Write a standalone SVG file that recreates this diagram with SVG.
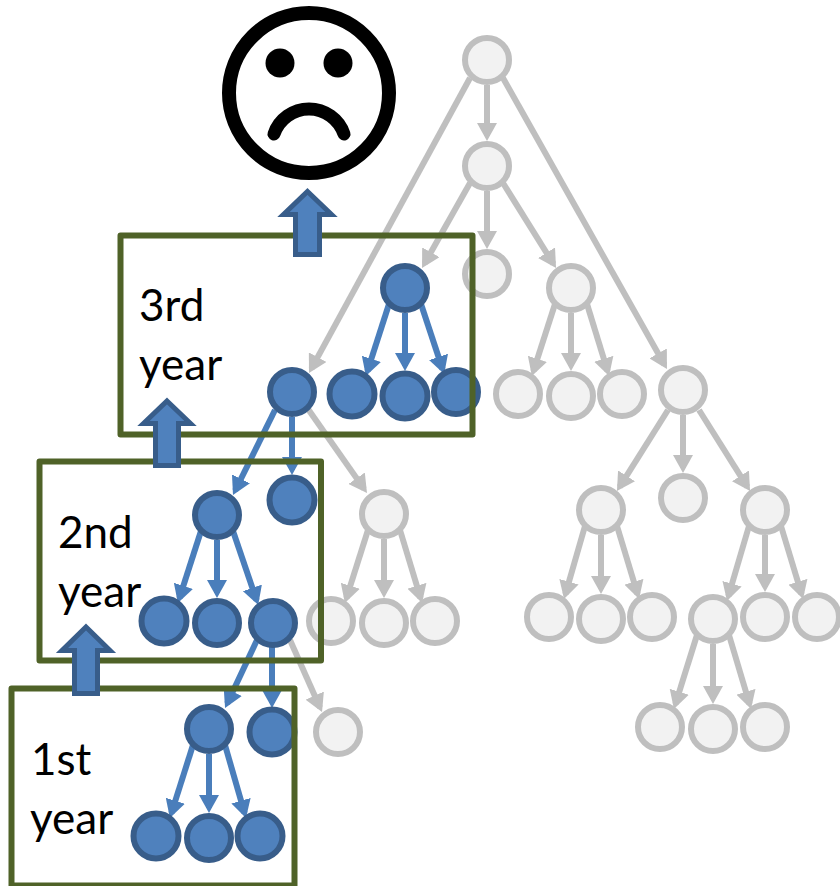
<svg xmlns="http://www.w3.org/2000/svg" width="840" height="886" viewBox="0 0 840 886">
<style>
.g{fill:#F2F2F2;stroke:#BFBFBF;stroke-width:6}
.b{fill:#4F81BD;stroke:#385D8A;stroke-width:6}
.lg{stroke:#BFBFBF;stroke-width:6;fill:none;marker-end:url(#hg)}
.lb{stroke:#4A7EBB;stroke-width:6;fill:none;marker-end:url(#hb)}
.f{fill:none;stroke:#4F6228;stroke-width:6;stroke-linejoin:round}
.u{fill:#4F81BD;stroke:#385D8A;stroke-width:5}
text{font-family:"Lato","Open Sans",sans-serif;font-size:44px;fill:#000}
</style>
<defs>
<marker id="hg" markerUnits="userSpaceOnUse" markerWidth="18" markerHeight="20" viewBox="0 0 18 20" refX="13" refY="10" orient="auto"><path d="M0 0L18 10L0 20Z" fill="#BFBFBF"/></marker>
<marker id="hb" markerUnits="userSpaceOnUse" markerWidth="18" markerHeight="20" viewBox="0 0 18 20" refX="13" refY="10" orient="auto"><path d="M0 0L18 10L0 20Z" fill="#4A7EBB"/></marker>
</defs>
<g id="connectors">
<g>
<path class="lg" d="M487 85V136"/>
<path class="lg" d="M470 78L311.400 368.600"/>
<path class="lg" d="M503 78L664.500 364.700"/>
<path class="lg" d="M470 183L424.500 263.600"/>
<path class="lg" d="M487 191V244"/>
<path class="lg" d="M503 183L553.400 263.800"/>
<path class="lg" d="M555 304L533.400 371.200"/>
<path class="lg" d="M571 313V366"/>
<path class="lg" d="M587 304L607.600 371.200"/>
<path class="lg" d="M668 410L619.600 486.800"/>
<path class="lg" d="M683 415V468"/>
<path class="lg" d="M699 410L747.400 486.800"/>
<path class="lg" d="M585 526L565.400 594.200"/>
<path class="lg" d="M601 535V589"/>
<path class="lg" d="M617 526L637.600 594.200"/>
<path class="lg" d="M749 526L728.400 596.200"/>
<path class="lg" d="M765 535V587"/>
<path class="lg" d="M781 526L801.600 594.200"/>
<path class="lg" d="M697 635L675.400 704.200"/>
<path class="lg" d="M713 644V699"/>
<path class="lg" d="M729 635L749.600 704.200"/>
<path class="lg" d="M308 409L364.100 488.900"/>
<path class="lg" d="M368 530L346.400 598.200"/>
<path class="lg" d="M384 539V593"/>
<path class="lg" d="M400 530L420.600 598.200"/>
<path class="lg" d="M290 640L320 707.500"/>
</g>
<g>
<path class="lb" d="M389 304L367.400 371.200"/>
<path class="lb" d="M405 313V366"/>
<path class="lb" d="M421 304L442.600 369.200"/>
<path class="lb" d="M275 410L235.200 490.500"/>
<path class="lb" d="M292 417V470"/>
<path class="lb" d="M201 531L179.400 598.200"/>
<path class="lb" d="M217 540V593"/>
<path class="lb" d="M233 531L256.600 600.200"/>
<path class="lb" d="M257 640L227.200 703.500"/>
<path class="lb" d="M272 647V703"/>
<path class="lb" d="M193 745L171.400 813.200"/>
<path class="lb" d="M209 754V808"/>
<path class="lb" d="M225 745L244.600 813.200"/>
</g>
</g>
<g id="sad-face" fill="none" stroke="#000">
<circle cx="309" cy="93" r="80" stroke-width="14"/>
<circle cx="280" cy="63" r="14.500" fill="#000" stroke="none"/>
<circle cx="338" cy="63" r="14.500" fill="#000" stroke="none"/>
<path d="M274 134A37 37 0 0 1 344 134" stroke-width="13" stroke-linecap="round"/>
</g>
<g id="gray-nodes">
<g id="n1"><circle class="g" cx="487" cy="60" r="22"/></g>
<g id="n2"><circle class="g" cx="487" cy="166" r="22"/></g>
<g id="n3"><circle class="g" cx="487" cy="274" r="22"/></g>
<g id="n4"><circle class="g" cx="571" cy="288" r="22"/></g>
<g id="n5"><circle class="g" cx="518" cy="394" r="22"/></g>
<g id="n6"><circle class="g" cx="571" cy="396" r="22"/></g>
<g id="n7"><circle class="g" cx="622" cy="394" r="22"/></g>
<g id="n8"><circle class="g" cx="683" cy="390" r="22"/></g>
<g id="n9"><circle class="g" cx="601" cy="510" r="22"/></g>
<g id="n10"><circle class="g" cx="683" cy="498" r="22"/></g>
<g id="n11"><circle class="g" cx="765" cy="510" r="22"/></g>
<g id="n12"><circle class="g" cx="549" cy="617" r="22"/></g>
<g id="n13"><circle class="g" cx="601" cy="619" r="22"/></g>
<g id="n14"><circle class="g" cx="652" cy="617" r="22"/></g>
<g id="n15"><circle class="g" cx="713" cy="619" r="22"/></g>
<g id="n16"><circle class="g" cx="765" cy="617" r="22"/></g>
<g id="n17"><circle class="g" cx="817" cy="617" r="22"/></g>
<g id="n18"><circle class="g" cx="660" cy="727" r="22"/></g>
<g id="n19"><circle class="g" cx="713" cy="729" r="22"/></g>
<g id="n20"><circle class="g" cx="765" cy="727" r="22"/></g>
<g id="n21"><circle class="g" cx="384" cy="514" r="22"/></g>
<g id="n22"><circle class="g" cx="331" cy="621" r="22"/></g>
<g id="n23"><circle class="g" cx="384" cy="623" r="22"/></g>
<g id="n24"><circle class="g" cx="435" cy="621" r="22"/></g>
<g id="n25"><circle class="g" cx="338" cy="732" r="22"/></g>
</g>
<g id="blue-nodes">
<g id="b1"><circle class="b" cx="405" cy="288" r="22"/></g>
<g id="b2"><circle class="b" cx="292" cy="392" r="22"/></g>
<g id="b3"><circle class="b" cx="352" cy="394" r="22.500"/></g>
<g id="b4"><circle class="b" cx="405" cy="396" r="22.500"/></g>
<g id="b5"><circle class="b" cx="456" cy="392" r="22"/></g>
<g id="b6"><circle class="b" cx="292" cy="500" r="22.500"/></g>
<g id="b7"><circle class="b" cx="217" cy="515" r="22"/></g>
<g id="b8"><circle class="b" cx="164" cy="621" r="22.500"/></g>
<g id="b9"><circle class="b" cx="217" cy="623" r="22"/></g>
<g id="b10"><circle class="b" cx="273" cy="623" r="22"/></g>
<g id="b11"><circle class="b" cx="209" cy="729" r="22"/></g>
<g id="b12"><circle class="b" cx="272" cy="732" r="22.500"/></g>
<g id="b13"><circle class="b" cx="156" cy="836" r="22.500"/></g>
<g id="b14"><circle class="b" cx="209" cy="838" r="22"/></g>
<g id="b15"><circle class="b" cx="260" cy="836" r="22.500"/></g>
</g>
<g id="year-3"><rect class="f" x="120.500" y="235.500" width="352" height="199"/><text x="139" y="321">3rd</text><text x="139" y="380">year</text></g>
<g id="year-2"><rect class="f" x="39.500" y="461.500" width="281.500" height="199"/><text x="58" y="548">2nd</text><text x="58" y="607">year</text></g>
<g id="year-1"><rect class="f" x="11.500" y="688.500" width="283" height="197"/><text x="31" y="775">1st</text><text x="30" y="834">year</text></g>
<g id="arrow-3"><path class="u" d="M307.500 191.500L331.500 214.500H319.500V254.500H295.500V214.500H283.500Z"/></g>
<g id="arrow-2"><path class="u" d="M167 401L190.500 423.500H178.500V465.500H155.500V423.500H143.500Z"/></g>
<g id="arrow-1"><path class="u" d="M86 627L110 650.500H97.500V693.500H74.500V650.500H62Z"/></g>
</svg>
